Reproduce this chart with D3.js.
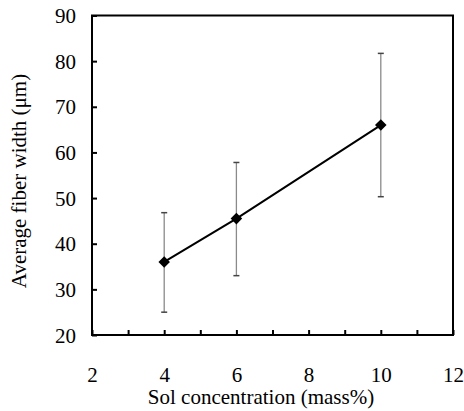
<!DOCTYPE html>
<html><head><meta charset="utf-8">
<script src="https://cdn.jsdelivr.net/npm/d3@7"></script>
<style>body{margin:0;background:#fff}svg{display:block}text{font-family:"Liberation Serif","Times New Roman",serif}</style>
</head><body><svg id="c" width="464" height="411"></svg>
<script>
const concentration = [4, 6, 10];
const fiberWidth = [36.0, 45.5, 66.0];
const errUpper = [46.8, 57.8, 81.7];
const errLower = [25.0, 33.0, 50.3];
const xTickLabels = [2, 4, 6, 8, 10, 12];
const yTickLabels = [20, 30, 40, 50, 60, 70, 80, 90];
const xLabel = "Sol concentration (mass%)";
const yLabel = "Average fiber width (\u03bcm)";

const svg = d3.select("#c");
const L = 92, R = 453, T = 15.5, B = 335;
const FS = 21;
const x = d3.scaleLinear().domain([2, 12]).range([L, R]);
const y = d3.scaleLinear().domain([20, 90]).range([B, T]);

const xAxis = d3.axisBottom(x).tickValues(d3.range(2, 13, 1)).tickSizeInner(-5).tickSizeOuter(0)
  .tickFormat(d => xTickLabels.includes(d) ? d : "");
const gx = svg.append("g").attr("transform", `translate(0,${B})`).call(xAxis);
gx.select(".domain").remove();
gx.selectAll(".tick line").attr("stroke", "#000").attr("stroke-width", 2);
gx.selectAll(".tick text").attr("font-size", FS).attr("fill", "#000").attr("dy", null).attr("y", 47)
  .attr("font-family", "Liberation Serif");

const yAxis = d3.axisLeft(y).tickValues(yTickLabels).tickSizeInner(-5).tickSizeOuter(0);
const gy = svg.append("g").attr("transform", `translate(${L},0)`).call(yAxis);
gy.select(".domain").remove();
gy.selectAll(".tick line").attr("stroke", "#000").attr("stroke-width", 2);
gy.selectAll(".tick text").attr("font-size", FS).attr("fill", "#000").attr("x", -16).attr("dy", "0.34em")
  .attr("font-family", "Liberation Serif");

svg.append("rect").attr("x", L).attr("y", T).attr("width", R - L).attr("height", B - T)
  .attr("fill", "none").attr("stroke", "#000").attr("stroke-width", 2);

const data = concentration.map((c, i) => ({c, v: fiberWidth[i], hi: errUpper[i], lo: errLower[i]}));

const eb = svg.append("g");
eb.selectAll("line.v").data(data).join("line").attr("class", "v")
  .attr("x1", d => x(d.c)).attr("x2", d => x(d.c)).attr("y1", d => y(d.hi)).attr("y2", d => y(d.lo))
  .attr("stroke", "#8a8a8a").attr("stroke-width", 1.3);
["hi", "lo"].forEach(k => {
  eb.selectAll("line." + k).data(data).join("line").attr("class", k)
    .attr("x1", d => x(d.c) - 3).attr("x2", d => x(d.c) + 3).attr("y1", d => y(d[k])).attr("y2", d => y(d[k]))
    .attr("stroke", "#444").attr("stroke-width", 1.5);
});

svg.append("path").datum(data)
  .attr("d", d3.line().x(d => x(d.c)).y(d => y(d.v)))
  .attr("fill", "none").attr("stroke", "#000").attr("stroke-width", 2);

svg.selectAll("path.m").data(data).join("path").attr("class", "m")
  .attr("d", d3.symbol(d3.symbolDiamond2, 85))
  .attr("transform", d => `translate(${x(d.c)},${y(d.v)})`)
  .attr("fill", "#000");

svg.append("text").attr("x", 261).attr("y", 404).attr("text-anchor", "middle")
  .attr("font-size", FS).text(xLabel);
svg.append("text").attr("transform", `translate(26,181) rotate(-90)`).attr("text-anchor", "middle")
  .attr("font-size", FS).text(yLabel);
</script></body></html>
